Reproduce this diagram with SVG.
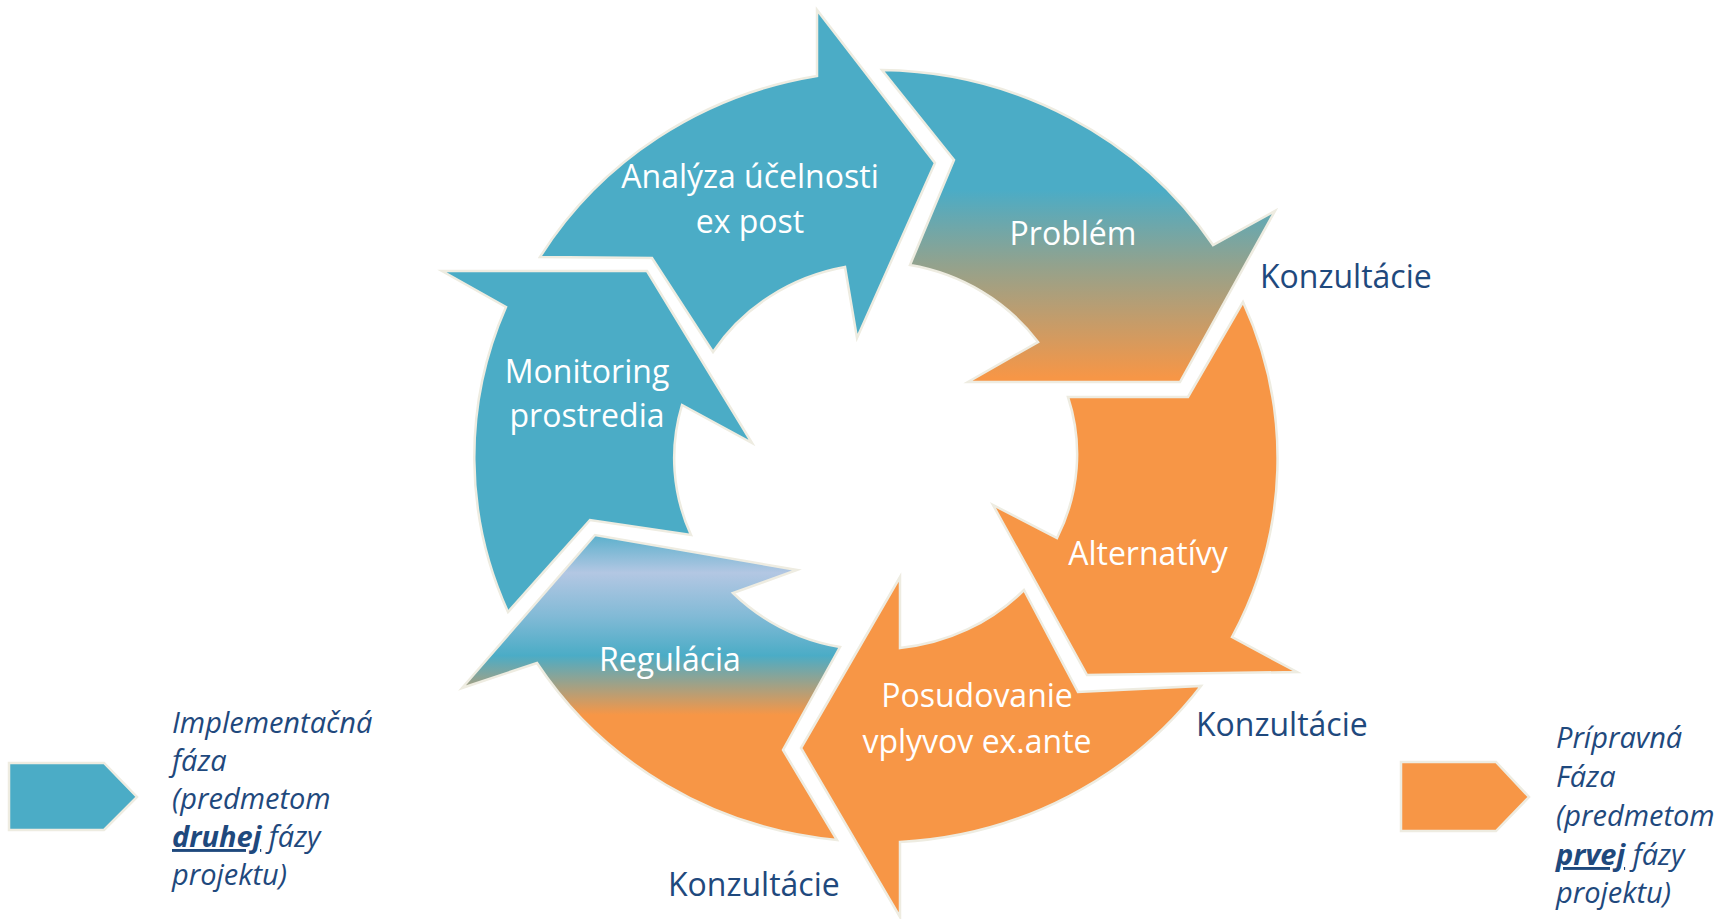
<svg xmlns="http://www.w3.org/2000/svg" width="1721" height="919" viewBox="0 0 1721 919">
<style>
.seg{stroke:#EEECE1;stroke-width:2.5;stroke-linejoin:miter}
.teal{fill:#4BACC6}
.orange{fill:#F79646}
.lbl{font-family:"Open Sans","Liberation Sans",sans-serif;font-size:32px;fill:#FFFFFF;text-anchor:middle}
.kon{font-family:"Open Sans","Liberation Sans",sans-serif;font-size:32px;fill:#1F497D}
.leg{font-family:"Open Sans","Liberation Sans",sans-serif;font-size:29px;font-style:italic;fill:#1F497D}
.ul{stroke:#1F497D;stroke-width:2}
</style>
<defs>
<linearGradient id="gProb" gradientUnits="userSpaceOnUse" x1="0" y1="190" x2="0" y2="378">
<stop offset="0" stop-color="#4BACC6"/>
<stop offset="0.4" stop-color="#93A28D"/>
<stop offset="1" stop-color="#F79646"/>
</linearGradient>
<linearGradient id="gReg" gradientUnits="userSpaceOnUse" x1="0" y1="535" x2="0" y2="715">
<stop offset="0" stop-color="#5BB0CC"/>
<stop offset="0.21" stop-color="#B3C7E3"/>
<stop offset="0.45" stop-color="#82BAD6"/>
<stop offset="0.67" stop-color="#4BACC6"/>
<stop offset="0.85" stop-color="#A9A080"/>
<stop offset="1" stop-color="#F79646"/>
</linearGradient>
</defs>

<g id="analyza">
<path class="seg teal" d="M 540 257 A 402 386 0 0 1 817 76 L 817 10 L 935 163 L 857 338 L 845 267 A 201 192 0 0 0 713 352 L 652 258 Z"/>
<text class="lbl" x="750" y="188">Analýza účelnosti</text>
<text class="lbl" x="750" y="233">ex post</text>
</g>

<g id="problem">
<path class="seg" fill="url(#gProb)" d="M 882 70 A 402 386 0 0 1 1213 245 L 1275 211 L 1180 382 L 968 382 L 1038 342 A 201 192 0 0 0 910 265 L 954 160 Z"/>
<text class="lbl" x="1073" y="245">Problém</text>
</g>

<g id="alternativy">
<path class="seg orange" d="M 1243 302 A 402 386 0 0 1 1232 637 L 1297 672 L 1087 675 L 993 505 L 1057 538 A 201 192 0 0 0 1068 397 L 1188 397 Z"/>
<text class="lbl" x="1148" y="565">Alternatívy</text>
</g>

<g id="posudovanie">
<path class="seg orange" d="M 1201 686 A 402 386 0 0 1 900 842 L 900 917 L 801 748 L 900 577 L 900 648 A 201 192 0 0 0 1024 590 L 1078 692 Z"/>
<text class="lbl" x="977" y="707">Posudovanie</text>
<text class="lbl" x="977" y="753">vplyvov ex.ante</text>
</g>

<g id="regulacia">
<path class="seg" fill="url(#gReg)" d="M 837 840 A 402 386 0 0 1 537 663 L 462 688 L 595 535 L 797 570 L 733 593 A 201 192 0 0 0 840 647 L 783 750 Z"/>
<text class="lbl" x="670" y="671">Regulácia</text>
</g>

<g id="monitoring">
<path class="seg teal" d="M 508 612 A 402 386 0 0 1 506 307 L 442 271 L 647 271 L 752 443 L 682 405 A 201 192 0 0 0 691 535 L 590 520 Z"/>
<text class="lbl" x="587" y="383">Monitoring</text>
<text class="lbl" x="587" y="427">prostredia</text>
</g>

<g id="konzultacie">
<text class="kon" x="1260" y="288">Konzultácie</text>
<text class="kon" x="1196" y="736">Konzultácie</text>
<text class="kon" x="668" y="896">Konzultácie</text>
</g>

<g id="legend-implementacna">
<path class="seg teal" d="M 9 763 L 104 763 L 137 797 L 104 830 L 9 830 Z"/>
<text class="leg" x="172" y="733">Implementačná</text>
<text class="leg" x="172" y="771">fáza</text>
<text class="leg" x="172" y="809">(predmetom</text>
<text class="leg" x="172" y="847"><tspan font-weight="bold" text-decoration="underline">druhej</tspan> fázy</text>
<text class="leg" x="172" y="885">projektu)</text>
</g>

<g id="legend-pripravna">
<path class="seg orange" d="M 1401 762 L 1496 762 L 1529 797 L 1496 831 L 1401 831 Z"/>
<text class="leg" x="1556" y="748">Prípravná</text>
<text class="leg" x="1556" y="787">Fáza</text>
<text class="leg" x="1556" y="826">(predmetom</text>
<text class="leg" x="1556" y="865"><tspan font-weight="bold" text-decoration="underline">prvej</tspan> fázy</text>
<text class="leg" x="1556" y="903">projektu)</text>
</g>

<g id="connectors"></g>
</svg>
